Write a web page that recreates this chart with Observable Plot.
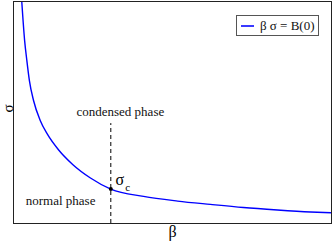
<!DOCTYPE html>
<html>
<head>
<meta charset="utf-8">
<script src="https://cdn.jsdelivr.net/npm/d3@7"></script>
<script src="https://cdn.jsdelivr.net/npm/@observablehq/plot@0.6"></script>
<style>
  html, body { margin: 0; padding: 0; background: #fff; }
  #wrap { position: relative; width: 332px; height: 245px; }
  #legend {
    position: absolute; left: 236px; top: 15px; width: 81px; height: 19px;
    border: 1px solid #555; background: #fff;
    font-family: "Liberation Serif", serif; font-size: 13px; color: #111;
    display: flex; align-items: center; box-sizing: content-box;
  }
  #legend .sw { display: inline-block; width: 13px; height: 2px; background: #3a3aff; margin: 0 6px 0 4px; }
</style>
</head>
<body>
<div id="wrap"></div>
<script>
// curve values
const beta  = [0.26, 0.35, 0.42, 0.50, 0.63, 0.84, 1.07, 1.42, 1.86, 2.42, 3.06, 4.09, 5.16, 6.19, 7.23, 8.30, 9.34, 10.0];
const sigma = [10.0, 8.24, 7.34, 6.44, 5.54, 4.64, 4.01, 3.31, 2.66, 2.05, 1.55, 1.22, 1.01, 0.86, 0.72, 0.61, 0.52, 0.48];
const betaC = 3.06, sigmaC = 1.55, dashTop = 4.5;
const labels = [
  {b: 3.36, s: 5.05, t: "condensed phase", anchor: "start"},
  {b: 1.48, s: 1.0,  t: "normal phase",    anchor: "middle"}
];
const legendLabel = "β σ = B(0)";

const curve = beta.map((b, i) => ({b, s: sigma[i]}));
const serif = "Liberation Serif";

const plot = Plot.plot({
  width: 332, height: 245,
  marginLeft: 13, marginTop: 1, marginRight: 1, marginBottom: 22,
  style: {fontFamily: serif, background: "#fff"},
  x: {domain: [0, 10], axis: null},
  y: {domain: [0, 10], axis: null},
  marks: [
    Plot.ruleX([betaC], {y1: 0, y2: dashTop, stroke: "#000", strokeDasharray: "4,3", strokeWidth: 1}),
    Plot.line(curve, {x: "b", y: "s", stroke: "#0000ff", strokeWidth: 1.4, curve: "monotone-x", clip: true}),
    Plot.dot([{b: betaC, s: sigmaC}], {x: "b", y: "s", r: 2, fill: "#000"}),
    Plot.text(labels, {x: "b", y: "s", text: "t", textAnchor: "anchor", fontSize: 13, fill: "#111", fontFamily: serif}),
    Plot.text([{b: betaC, s: sigmaC}], {x: "b", y: "s", text: () => "σ", dx: 9, dy: -9, fontSize: 16, fill: "#000", fontFamily: serif}),
    Plot.text([{b: betaC, s: sigmaC}], {x: "b", y: "s", text: () => "c", dx: 17, dy: -2, fontSize: 11, fill: "#000", fontFamily: serif}),
    Plot.frame({stroke: "#222", strokeWidth: 1}),
    Plot.text(["β"], {frameAnchor: "bottom", dy: 13, fontSize: 16, fill: "#000", fontFamily: serif}),
    Plot.text(["σ"], {frameAnchor: "left", dx: -5, rotate: -90, fontSize: 15, fill: "#000", fontFamily: serif})
  ]
});
const wrap = document.getElementById("wrap");
wrap.appendChild(plot);
const lg = document.createElement("div");
lg.id = "legend";
lg.innerHTML = '<span class="sw"></span><span></span>';
lg.lastChild.textContent = legendLabel;
wrap.appendChild(lg);
</script>
</body>
</html>
